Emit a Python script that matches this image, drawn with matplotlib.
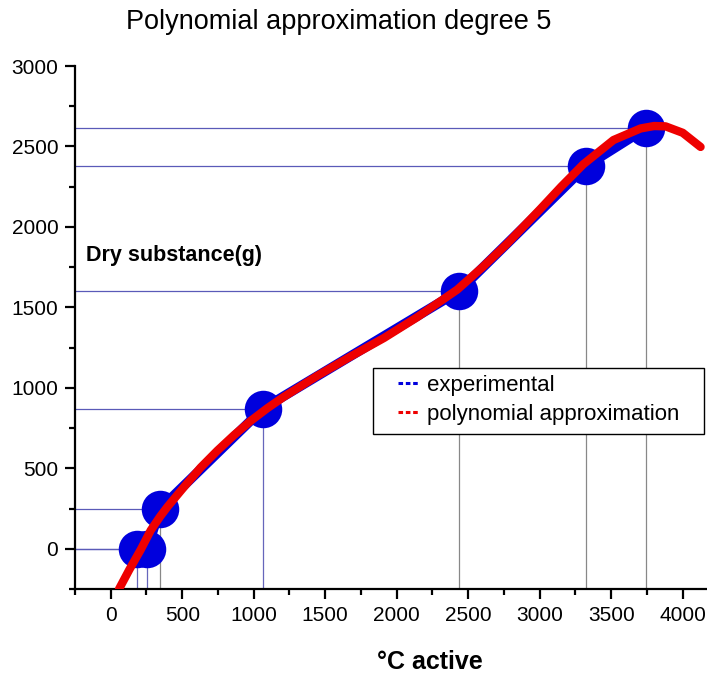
#!/usr/bin/env python3

import matplotlib
matplotlib.use('Agg')
import matplotlib.pyplot as plt
from matplotlib.patches import Rectangle
from matplotlib.ticker import MultipleLocator

plt.rcParams['font.family'] = ['Liberation Sans', 'DejaVu Sans']

# experimental points (degree-days active, dry substance in g)
exp_x = [187, 254, 346, 1065, 2433, 3322, 3745]
exp_y = [0, 0, 249, 871, 1600, 2377, 2614]

# red curve
poly_x = [58, 130, 210, 280, 345, 396, 513, 629, 746, 862, 979, 1096, 1212,
          1445, 1678, 1911, 2145, 2284, 2423, 2600, 2771, 3003, 3150, 3306,
          3516, 3706, 3800, 3880, 4000, 4125]
poly_y = [-250, -130, -5, 115, 200, 260, 385, 505, 610, 706, 795, 874, 945,
          1075, 1195, 1310, 1440, 1525, 1610, 1750, 1895, 2110, 2250, 2390,
          2540, 2612, 2627, 2625, 2585, 2497]

title = 'Polynomial approximation degree 5'
xlabel = '°C active'
ylabel = 'Dry substance(g)'

fig = plt.figure(figsize=(7.07, 6.75), dpi=100)
ax = fig.add_axes([75/707, 86/675, 632/707, 523/675])

xmin, xmax = -250, 4170
ymin, ymax = -250, 3000

# guide lines from the axes to each point
vcols = ['#6666bb', '#6666bb', '#888888', '#6666bb', '#888888', '#888888', '#888888']
for i in range(len(exp_x)):
    ax.plot([xmin, exp_x[i]], [exp_y[i], exp_y[i]], color='#5a5ab8', lw=0.9, zorder=1)
    ax.plot([exp_x[i], exp_x[i]], [ymin, exp_y[i]], color=vcols[i], lw=0.9, zorder=1)

ax.plot(exp_x, exp_y, color='#0000dd', lw=7, solid_capstyle='round', zorder=2)
ax.plot(exp_x, exp_y, 'o', color='#0000dd', ms=27, mec='none', zorder=3)
ax.plot(poly_x, poly_y, color='#ee0000', lw=6, solid_capstyle='round',
        solid_joinstyle='round', zorder=4)

# legend: box drawn separately, it is wider than the entries
box = Rectangle((0.4715, 0.2964), 0.5235, 0.1262, transform=ax.transAxes,
                facecolor='white', edgecolor='black', lw=1.0, zorder=5)
ax.add_patch(box)
h1, = ax.plot([], [], color='#0000dd', ls=(0, (1.5, 0.9)), lw=2.2, label='experimental')
h2, = ax.plot([], [], color='#ee0000', ls=(0, (1.5, 0.9)), lw=2.2, label='polynomial approximation')
leg = ax.legend(handles=[h1, h2], loc='upper left', bbox_to_anchor=(0.5, 0.4226),
                borderaxespad=0, frameon=False, fontsize=16,
                handlelength=1.0, handletextpad=0.3, borderpad=0.3,
                labelspacing=0.38)
leg.set_zorder(6)

ax.set_xlim(xmin, xmax)
ax.set_ylim(ymin, ymax)
ax.xaxis.set_major_locator(MultipleLocator(500))
ax.xaxis.set_minor_locator(MultipleLocator(250))
ax.yaxis.set_major_locator(MultipleLocator(500))
ax.yaxis.set_minor_locator(MultipleLocator(250))
ax.spines['top'].set_visible(False)
ax.spines['right'].set_visible(False)
ax.spines['left'].set_linewidth(1.6)
ax.spines['bottom'].set_linewidth(1.6)
ax.tick_params(which='major', length=7, width=1.6, labelsize=15, pad=5)
ax.tick_params(which='minor', length=4.5, width=1.6)

fig.text(339/707, 1 - 22/675, title, ha='center', va='center', fontsize=19.5)
fig.text(430/707, 1 - 662/675, xlabel, ha='center', va='center', fontsize=18,
         fontweight='bold')
fig.text(86/707, 1 - 255/675, ylabel, ha='left', va='center', fontsize=15.5,
         fontweight='bold')

fig.savefig('out.png', dpi=100)
